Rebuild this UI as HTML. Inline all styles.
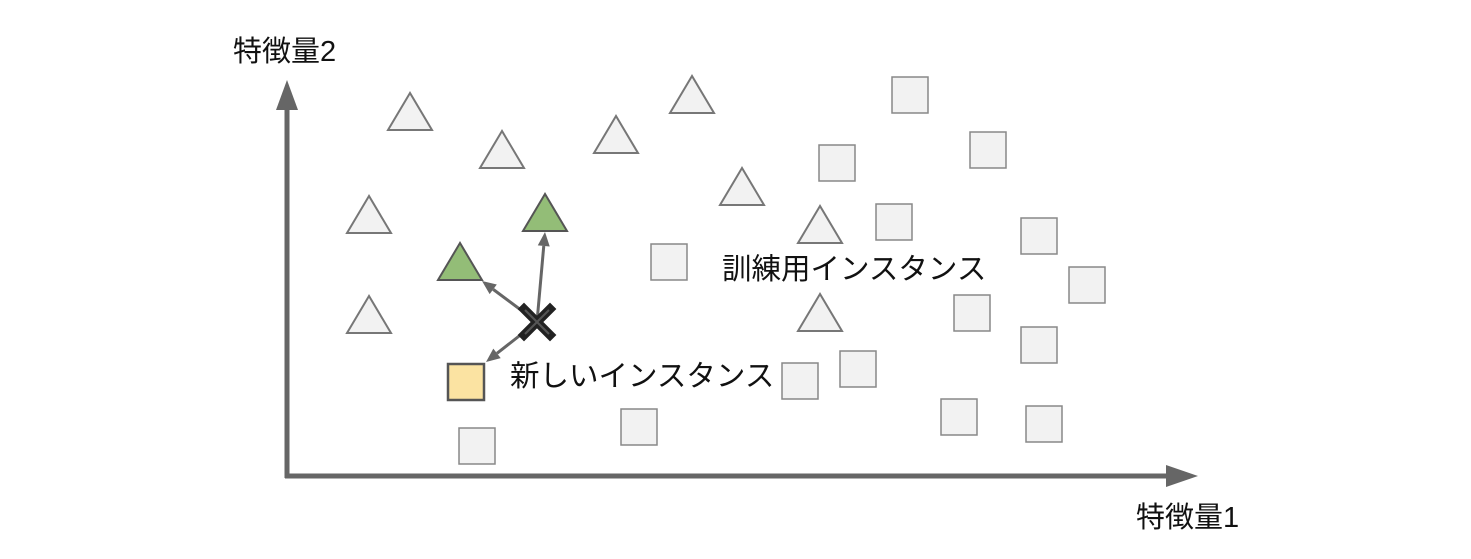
<!DOCTYPE html>
<html><head><meta charset="utf-8"><style>
html,body{margin:0;padding:0;background:#fff;}
svg{display:block;}
text{font-family:"Liberation Sans","Noto Sans CJK JP",sans-serif;fill:#111;}
</style></head><body>
<svg id="chart" width="1471" height="559" viewBox="0 0 1471 559" xmlns="http://www.w3.org/2000/svg">
<g id="axes">
<line x1="287" y1="478" x2="287" y2="105" stroke="#666" stroke-width="5"/>
<polygon points="287,80 276,110 298,110" fill="#666"/>
<line x1="285" y1="476" x2="1170" y2="476" stroke="#666" stroke-width="5"/>
<polygon points="1198,476 1166,465 1166,487" fill="#666"/>
<text x="233" y="61" font-size="29">特徴量2</text>
<text x="1136" y="527" font-size="29">特徴量1</text>
</g>
<g id="marks"></g>
<text x="722" y="279" font-size="29.5">訓練用インスタンス</text>
<text x="510" y="386" font-size="29.5">新しいインスタンス</text>
</svg>
<script>
// data in feature units
const triX = [12.3, 21.5, 32.9, 40.5, 8.2, 45.5, 53.3, 8.2, 53.3];
const triY = [36.4, 32.6, 34.1, 38.1, 26.1, 28.9, 25.1, 16.1, 16.3];
const greenTriX = [25.8, 17.3];
const greenTriY = [26.3, 21.4];
const sqX = [62.3, 70.1, 55.0, 60.7, 75.2, 38.2, 80.0, 68.5, 75.2, 57.1, 51.3, 35.2, 67.2, 75.7, 19.0];
const sqY = [38.1, 32.6, 31.3, 25.4, 24.0, 21.4, 19.1, 16.3, 13.1, 10.7, 9.5, 4.9, 5.9, 5.2, 3.0];
const yellowSqX = [17.9];
const yellowSqY = [9.4];
const newX = [25.0];
const newY = [15.4];

const X = v => 287 + v * 10;
const Y = v => 476 - v * 10;
const NS = "http://www.w3.org/2000/svg";
const g = document.getElementById('marks');
function mk(tag, attrs){const e=document.createElementNS(NS,tag);for(const k in attrs)e.setAttribute(k,attrs[k]);g.appendChild(e);return e;}
function tri(cx,cy,fill,stroke){
  return mk('polygon',{points:`${cx},${cy-19} ${cx-22},${cy+18} ${cx+22},${cy+18}`,fill:fill,stroke:stroke,'stroke-width':2});
}
function sq(cx,cy,fill,stroke,sw){
  return mk('rect',{x:cx-18,y:cy-18,width:36,height:36,fill:fill,stroke:stroke,'stroke-width':sw});
}
triX.forEach((v,i)=>{const e=tri(X(v),Y(triY[i]),'#f2f2f2','#777');

});
sqX.forEach((v,i)=>{const e=sq(X(v),Y(sqY[i]),'#f2f2f2','#888',1.5);

});
const nx=X(newX[0]), ny=Y(newY[0]);
function arrow(tx,ty){
  const dx=tx-nx, dy=ty-ny, L=Math.hypot(dx,dy), ux=dx/L, uy=dy/L;
  const bx=tx-ux*14, by=ty-uy*14;
  const l=mk('line',{x1:nx,y1:ny,x2:bx,y2:by,stroke:'#666','stroke-width':3});
  
  
  const h=mk('polygon',{points:`${tx},${ty} ${bx-uy*6},${by+ux*6} ${bx+uy*6},${by-ux*6}`,fill:'#666'});
  
  
}
arrow(X(greenTriX[0]),Y(greenTriY[0])+19);
arrow(X(greenTriX[1])+22,Y(greenTriY[1])+19);
arrow(X(yellowSqX[0])+20,Y(yellowSqY[0])-20);
greenTriX.forEach((v,i)=>{const e=tri(X(v),Y(greenTriY[i]),'#93bd77','#555');

});
yellowSqX.forEach((v,i)=>{const e=sq(X(v),Y(yellowSqY[i]),'#fbe3a2','#555',2.5);

});
[[1,1],[1,-1]].forEach(d=>{
  const a=mk('line',{x1:nx-13*d[0],y1:ny-13*d[1],x2:nx+13*d[0],y2:ny+13*d[1],stroke:'#222','stroke-width':9,'stroke-linecap':'square'});
  
  
});
[[1,1],[1,-1]].forEach(d=>{
  const b=mk('line',{x1:nx-12*d[0],y1:ny-12*d[1],x2:nx+12*d[0],y2:ny+12*d[1],stroke:'#555','stroke-width':2});
  
  
});
</script>
</body></html>
